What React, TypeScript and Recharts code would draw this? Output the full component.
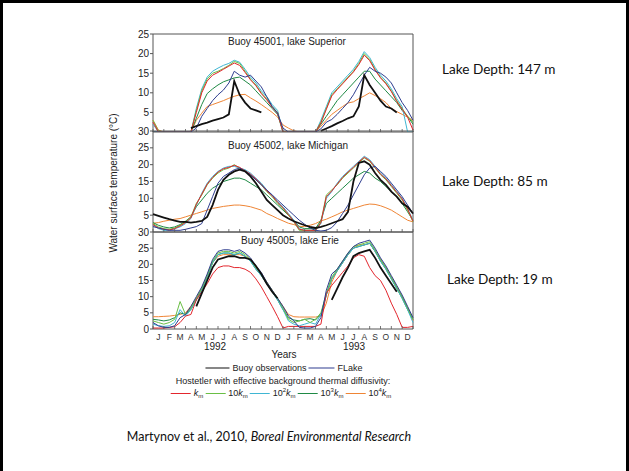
import React from 'react';
import { LineChart, Line, XAxis, YAxis, ReferenceArea } from 'recharts';

// ---------- categories / labels ----------
const monthLabels = ['J', 'F', 'M', 'A', 'M', 'J', 'J', 'A', 'S', 'O', 'N', 'D'];
const yearLabels = ['1992', '1993'];
const panelTitles = ['Buoy 45001, lake Superior', 'Buoy 45002, lake Michigan', 'Buoy 45005, lake Erie'];
const depthLabels = ['Lake Depth: 147 m', 'Lake Depth: 85 m', 'Lake Depth: 19 m'];
// time grid: months since 1 Jan 1992, half-month steps (0 .. 24)
const timeGrid = Array.from({ length: 49 }, (_, i) => i / 2);
const monthBoundaries = Array.from({ length: 25 }, (_, i) => i);
const monthCenters = Array.from({ length: 24 }, (_, i) => i + 0.5);

type S = (number | null)[];
const _ = null;

// ---------- Lake Superior ----------
const supObs: S = [_, _, _, _, _, _, _, 1.0, 1.5, 2.0, 2.4, 2.9, 3.3, 3.7, 4.5, 13.0, 9.5, 7.5, 6.0, 5.5, 5.0, _, _, _, _, _, _, _, _, _, _, 0.3, 0.9, 1.5, 2.2, 2.8, 3.5, 4.0, 6.5, 14.5, 12.0, 10.0, 8.0, 6.5, 6.0, 5.0, _, _, _];
const supFlake: S = [0, 0, 0, 0, 0, 0, 0, 0, 1.0, 4.0, 6.0, 8.0, 9.5, 10.7, 12.5, 15.5, 14.5, 14.0, 14.5, 13.0, 11.5, 9.0, 6.5, 4.8, 1.0, 0, 0, 0, 0, 0, 0, 0.8, 2.5, 3.2, 4.5, 6.0, 7.5, 9.5, 12.0, 14.5, 16.5, 15.5, 15.0, 14.0, 12.5, 10.0, 7.5, 5.5, 3.0];
const supK1: S = [2.5, 0, 0, 0, 0, 0, 0, 0, 5.0, 10.0, 13.0, 14.5, 15.2, 16.0, 16.8, 17.6, 17.0, 15.2, 13.3, 11.8, 9.8, 8.2, 6.3, 4.8, 0, 0, 0, 0, 0, 0, 0, 2.3, 5.8, 9.2, 10.8, 12.3, 13.8, 15.3, 17.2, 19.6, 18.2, 15.8, 13.8, 12.3, 10.3, 7.8, 5.8, 3.8, 0.5];
const supK10: S = [3.0, 0.3, 0, 0, 0, 0, 0, 0, 5.5, 10.5, 13.5, 15.0, 15.5, 16.2, 17.0, 18.0, 17.5, 15.5, 13.5, 12.0, 10.0, 8.5, 6.5, 5.0, 0, 0, 0, 0, 0, 0, 0, 2.5, 6.0, 9.5, 11.0, 12.5, 14.0, 15.5, 17.5, 20.0, 18.5, 16.0, 14.0, 12.5, 10.5, 8.0, 6.0, 4.0, 2.5];
const supK100: S = [2.0, 0, 0, 0, 0, 0, 0, 0, 6.0, 11.0, 14.0, 15.5, 16.3, 17.0, 17.5, 18.3, 17.8, 16.0, 14.0, 12.5, 10.5, 9.0, 7.0, 5.5, 0, 0, 0, 0, 0, 0, 0, 3.0, 6.5, 10.0, 11.5, 13.0, 14.5, 16.0, 18.0, 20.5, 19.0, 16.5, 14.5, 13.0, 11.0, 8.5, 6.5, 0, 0];
const supK1000: S = [0, 0, 0, 0, 0, 0, 0, 0, 3.5, 7.0, 9.8, 11.0, 12.0, 12.8, 13.3, 13.8, 14.0, 13.0, 12.0, 10.5, 9.0, 7.5, 6.0, 4.5, 0, 0, 0, 0, 0, 0, 0, 2.0, 4.0, 6.0, 8.0, 9.5, 11.0, 12.5, 14.0, 15.5, 15.5, 13.5, 12.0, 10.5, 9.0, 7.5, 5.5, 4.0, 2.0];
const supK10000: S = [3.0, 0.5, 0, 0, 0, 0, 0, 0, 3.0, 4.8, 6.5, 7.0, 7.5, 8.0, 8.6, 9.1, 9.5, 9.6, 8.7, 7.9, 7.0, 6.0, 5.0, 3.8, 1.8, 1.0, 0.3, 0, 0, 0, 0, 1.5, 3.0, 4.5, 5.5, 6.5, 7.4, 7.7, 8.5, 9.2, 10.0, 9.3, 8.5, 7.5, 6.0, 5.2, 4.5, 3.8, 3.0];

// ---------- Lake Michigan ----------
const micObs: S = [5.3, 4.8, 4.3, 3.8, 3.4, 3.0, 3.0, 2.8, 3.0, 3.3, 4.5, 8.0, 12.5, 15.5, 17.0, 18.0, 18.5, 18.0, 16.5, 14.5, 12.0, 9.5, 8.0, 6.5, 5.0, 4.0, 3.2, 2.6, 2.0, 1.5, 1.2, 1.5, 2.0, 2.6, 3.2, 3.8, 6.0, 15.0, 20.5, 21.0, 20.0, 17.5, 15.5, 14.0, 12.0, 10.5, 8.5, 7.5, 5.5];
const micFlake: S = [1.6, 1.2, 0.8, 0.5, 0.5, 0.5, 0.8, 1.2, 1.6, 2.5, 6.5, 10.5, 14.5, 16.5, 17.5, 18.5, 19.0, 18.0, 17.0, 15.5, 14.0, 12.5, 11.0, 9.5, 8.0, 6.5, 5.0, 3.5, 2.3, 1.2, 0.5, 0.3, 0.5, 1.3, 3.0, 5.5, 8.0, 11.0, 14.0, 17.0, 19.0, 19.5, 18.0, 16.5, 14.5, 12.5, 10.5, 8.0, 5.5];
const micK1: S = [2.2, 1.2, 0.8, 0.6, 1.0, 1.8, 2.8, 4.2, 8.2, 11.2, 14.2, 16.2, 17.8, 18.8, 19.2, 19.8, 19.2, 18.2, 17.2, 15.8, 14.2, 12.2, 10.8, 8.8, 7.2, 5.2, 3.2, 0.8, 0.5, 0.5, 0.5, 2.8, 10.5, 12.2, 14.2, 16.2, 17.8, 19.2, 20.8, 22.2, 21.2, 19.2, 17.2, 15.8, 13.8, 11.8, 9.8, 6.8, 3.2];
const micK10: S = [2.5, 1.5, 1.0, 0.8, 1.2, 2.0, 3.0, 4.5, 8.5, 11.0, 14.0, 16.0, 17.5, 18.5, 19.0, 20.0, 19.0, 18.0, 17.0, 15.5, 14.0, 12.0, 10.5, 8.5, 7.0, 5.0, 3.0, 0.5, 0.5, 0.5, 0.5, 3.0, 11.0, 12.5, 14.0, 16.0, 17.5, 19.0, 20.5, 22.0, 21.0, 19.0, 17.0, 15.5, 13.5, 11.5, 9.5, 6.5, 3.0];
const micK100: S = [2.0, 1.0, 0.5, 0.5, 1.0, 1.5, 2.5, 4.0, 8.0, 11.5, 14.5, 16.5, 18.0, 19.0, 19.5, 19.5, 19.0, 18.5, 17.5, 16.0, 14.5, 12.5, 11.0, 9.0, 7.5, 5.5, 3.5, 1.0, 0.5, 0.5, 0.5, 2.5, 10.0, 12.0, 14.5, 16.5, 18.0, 19.5, 21.0, 22.5, 21.5, 19.5, 17.5, 16.0, 14.0, 12.0, 10.0, 7.0, 3.5];
const micK1000: S = [2.8, 2.0, 1.5, 1.2, 1.5, 2.2, 3.2, 4.5, 7.5, 9.5, 11.5, 13.0, 14.0, 15.0, 15.5, 16.0, 16.0, 15.5, 14.5, 13.5, 12.5, 11.0, 9.5, 8.0, 6.5, 5.0, 3.5, 1.5, 1.0, 1.0, 1.0, 3.5, 8.5, 10.0, 11.5, 13.0, 14.5, 16.0, 17.0, 18.0, 17.5, 16.0, 15.0, 13.5, 12.0, 10.5, 8.5, 6.0, 3.5];
const micK10000: S = [2.6, 2.8, 3.2, 3.5, 3.8, 4.0, 4.5, 5.0, 5.5, 6.0, 6.5, 7.0, 7.3, 7.6, 7.8, 8.0, 8.0, 7.8, 7.5, 7.0, 6.5, 5.5, 4.8, 4.0, 3.3, 2.6, 2.2, 1.7, 1.6, 2.0, 2.5, 3.3, 3.8, 4.5, 5.2, 6.0, 6.5, 7.0, 7.5, 8.0, 8.3, 8.2, 7.8, 7.2, 6.5, 5.5, 4.5, 3.5, 3.0];

// ---------- Lake Erie ----------
const erieObs: S = [_, _, _, _, _, _, _, _, 7.0, 11.0, 15.0, 19.0, 21.5, 22.0, 22.5, 22.5, 22.0, 22.0, 21.5, 19.5, 17.0, 14.0, 11.5, 9.5, _, _, _, _, _, _, _, _, _, 9.0, 12.5, 16.0, 19.0, 22.5, 23.5, 24.0, 24.5, 22.0, 19.0, 16.5, 14.0, 11.5, _, _, _];
const erieFlake: S = [2.0, 1.0, 0.5, 0.5, 1.0, 3.5, 4.5, 7.0, 10.0, 13.0, 17.0, 21.5, 24.0, 24.5, 24.5, 24.0, 24.5, 23.5, 22.0, 19.5, 17.5, 14.5, 12.0, 9.5, 7.0, 4.0, 2.5, 0.5, 0.3, 0.3, 0.8, 3.5, 12.0, 17.0, 18.5, 21.0, 23.5, 25.5, 26.5, 27.0, 27.5, 25.0, 22.0, 19.5, 16.5, 13.5, 10.5, 7.0, 3.5];
const erieK1: S = [0.3, 0.3, 0.3, 0.5, 0.7, 2.0, 4.0, 4.5, 9.0, 11.5, 14.0, 17.0, 19.0, 19.5, 19.5, 19.0, 19.0, 18.5, 17.5, 15.5, 13.0, 10.0, 7.0, 3.8, 0.3, 0.8, 0.8, 0.8, 0.8, 0.8, 0.8, 1.5, 11.0, 13.5, 15.5, 17.5, 19.5, 22.0, 23.0, 22.5, 19.0, 16.5, 15.0, 12.0, 8.0, 4.5, 0.5, 0.5, 0.8];
const erieK10: S = [2.5, 2.0, 1.5, 2.0, 3.0, 8.5, 4.5, 6.5, 9.5, 12.5, 16.5, 21.0, 23.5, 24.0, 24.0, 23.5, 24.0, 23.0, 21.5, 19.0, 17.0, 14.5, 12.0, 9.5, 6.5, 3.0, 2.0, 2.5, 3.0, 2.0, 3.0, 5.0, 11.0, 16.0, 18.5, 21.0, 23.5, 25.5, 26.0, 26.5, 27.0, 24.5, 21.5, 19.0, 16.0, 13.0, 10.0, 6.5, 3.0];
const erieK100: S = [1.5, 1.0, 0.8, 1.0, 2.0, 6.0, 4.0, 6.0, 9.0, 12.0, 16.0, 20.5, 23.0, 23.5, 23.5, 23.0, 23.5, 22.5, 21.0, 18.5, 16.5, 14.0, 11.5, 9.0, 6.0, 2.5, 1.5, 1.0, 1.5, 2.0, 1.5, 4.5, 10.5, 15.5, 18.0, 20.5, 23.0, 25.0, 25.5, 26.0, 26.5, 24.0, 21.0, 18.5, 15.5, 12.5, 9.5, 6.0, 2.0];
const erieK1000: S = [3.0, 2.8, 2.5, 2.8, 3.5, 5.0, 4.5, 6.0, 9.0, 12.0, 16.0, 20.5, 23.0, 23.5, 23.5, 23.0, 23.5, 22.5, 21.0, 18.5, 16.5, 14.0, 11.5, 9.0, 6.0, 3.5, 2.8, 2.5, 3.0, 3.2, 2.8, 4.5, 10.5, 15.5, 18.0, 20.5, 23.0, 25.0, 25.5, 26.0, 26.5, 24.0, 21.0, 18.5, 15.5, 12.5, 9.5, 6.0, 3.0];
const erieK10000: S = [3.8, 3.8, 3.9, 4.0, 4.2, 4.5, 5.0, 7.0, 9.5, 12.5, 16.5, 20.5, 22.5, 23.0, 23.0, 23.0, 23.0, 22.5, 21.5, 19.0, 17.0, 14.5, 12.0, 9.5, 7.0, 4.5, 3.8, 3.7, 3.7, 3.7, 3.7, 4.0, 8.0, 14.5, 18.0, 20.5, 23.0, 25.0, 26.0, 26.0, 26.5, 24.0, 21.5, 19.0, 16.0, 13.0, 10.0, 6.5, 2.5];

// ---------- styling ----------
const W = 629;
const H = 471;
const PLOT_LEFT = 153;
const PLOT_RIGHT = 413;
const FRAME = '#555';
const CHART_FONT = '"Liberation Sans", Arial, sans-serif';
const SLIDE_FONT = 'Lato, "Liberation Sans", sans-serif';

const C_OBS = '#111111';
const C_FLAKE = '#2e3d8f';
const C_K1 = '#e3262d';
const C_K10 = '#6abf45';
const C_K100 = '#3fb6d3';
const C_K1000 = '#1f8a45';
const C_K10000 = '#ef8535';

const SERIES = [
  { key: 'k10000', color: C_K10000, width: 1 },
  { key: 'k1000', color: C_K1000, width: 1 },
  { key: 'k100', color: C_K100, width: 1 },
  { key: 'k10', color: C_K10, width: 1 },
  { key: 'k1', color: C_K1, width: 1 },
  { key: 'flake', color: C_FLAKE, width: 1 },
  { key: 'obs', color: C_OBS, width: 1.8 },
];

function buildRows(s: Record<string, S>) {
  return timeGrid.map((t, i) => {
    const row: Record<string, number | null> = { t };
    Object.keys(s).forEach((k) => {
      row[k] = s[k][i];
    });
    return row;
  });
}

const supRows = buildRows({ obs: supObs, flake: supFlake, k1: supK1, k10: supK10, k100: supK100, k1000: supK1000, k10000: supK10000 });
const micRows = buildRows({ obs: micObs, flake: micFlake, k1: micK1, k10: micK10, k100: micK100, k1000: micK1000, k10000: micK10000 });
const erieRows = buildRows({ obs: erieObs, flake: erieFlake, k1: erieK1, k10: erieK10, k100: erieK100, k1000: erieK1000, k10000: erieK10000 });

function BoundaryTick(props: any) {
  const { x, y } = props;
  return <line x1={x} x2={x} y1={y} y2={y - 3} stroke={FRAME} strokeWidth={0.8} />;
}

function Panel(props: {
  rows: any[];
  plotTop: number;
  plotBottom: number;
  yMax: number;
  yTicks: number[];
  showMonths: boolean;
}) {
  const { rows, plotTop, plotBottom, yMax, yTicks, showMonths } = props;
  const labelH = showMonths ? 14 : 0;
  return (
    <div style={{ position: 'absolute', left: 0, top: 0 }}>
      <LineChart
        width={W}
        height={H}
        data={rows}
        margin={{ top: plotTop, left: PLOT_LEFT - 30, right: W - PLOT_RIGHT, bottom: H - plotBottom - 1 - labelH }}
      >
        <XAxis
          xAxisId="b"
          type="number"
          dataKey="t"
          domain={[0, 24]}
          ticks={monthBoundaries}
          interval={0}
          tickSize={0}
          tickMargin={0}
          axisLine={false}
          tickLine={false}
          height={1}
          tick={<BoundaryTick />}
        />
        {showMonths && (
          <XAxis
            xAxisId="l"
            type="number"
            dataKey="t"
            domain={[0, 24]}
            ticks={monthCenters}
            interval={0}
            tickSize={0}
            tickMargin={4}
            axisLine={false}
            tickLine={false}
            height={labelH}
            tickFormatter={(v: number) => monthLabels[Math.floor(v) % 12]}
            tick={{ fontSize: 8.5, fill: '#333' }}
          />
        )}
        <YAxis
          yAxisId="left"
          type="number"
          domain={[0, yMax]}
          ticks={yTicks}
          interval={0}
          width={30}
          tickSize={3}
          tickMargin={1}
          axisLine={false}
          tickLine={{ stroke: FRAME }}
          tick={{ fontSize: 10, fill: '#222' }}
          allowDataOverflow
        />
        <YAxis
          yAxisId="right"
          orientation="right"
          mirror
          type="number"
          domain={[0, yMax]}
          ticks={yTicks}
          interval={0}
          width={0}
          tickSize={3}
          axisLine={false}
          tickLine={{ stroke: FRAME }}
          tick={() => null}
          allowDataOverflow
        />
        <ReferenceArea
          xAxisId="b"
          yAxisId="left"
          x1={0}
          x2={24}
          y1={0}
          y2={yMax}
          fill="none"
          fillOpacity={0}
          stroke={FRAME}
          strokeWidth={1}
          ifOverflow="visible"
        />
        {SERIES.map((s) => (
          <Line
            key={s.key}
            xAxisId="b"
            yAxisId="left"
            type="linear"
            dataKey={s.key}
            stroke={s.color}
            strokeWidth={s.width}
            dot={false}
            activeDot={false}
            isAnimationActive={false}
          />
        ))}
      </LineChart>
    </div>
  );
}

function Txt(props: { x: number; y: number; size: number; align?: 'center' | 'left'; font?: string; children: React.ReactNode; color?: string }) {
  const { x, y, size, align = 'center', font = CHART_FONT, children, color = '#222' } = props;
  return (
    <div
      style={{
        position: 'absolute',
        left: x,
        top: y,
        transform: align === 'center' ? 'translate(-50%, -50%)' : 'translate(0, -50%)',
        fontFamily: font,
        fontSize: size,
        color,
        whiteSpace: 'nowrap',
        lineHeight: 1,
      }}
    >
      {children}
    </div>
  );
}

function Swatch({ c, w = 20 }: { c: string; w?: number }) {
  return <span style={{ display: 'inline-block', width: w, height: 1.2, background: c, margin: '0 3px 0 2px', verticalAlign: 'middle' }} />;
}

const km = (prefix: string, pow?: string) => (
  <span>
    {prefix}
    {pow ? <sup style={{ fontSize: 6, verticalAlign: '4px' }}>{pow}</sup> : null}
    <i>k</i>
    <sub style={{ fontSize: 6, verticalAlign: '-2px' }}>m</sub>
  </span>
);

export default function App() {
  return (
    <div style={{ position: 'absolute', left: 0, top: 0, width: W, height: H, background: '#fff', overflow: 'hidden', fontFamily: CHART_FONT }}>
      {/* slide frame */}
      <div style={{ position: 'absolute', left: 0, top: 0, width: W, height: 3, background: '#000' }} />
      <div style={{ position: 'absolute', left: 0, top: 0, width: 3, height: H, background: '#000' }} />
      <div style={{ position: 'absolute', left: W - 3, top: 0, width: 3, height: H, background: '#000' }} />

      <Panel rows={supRows} plotTop={34} plotBottom={132} yMax={25} yTicks={[5, 10, 15, 20, 25]} showMonths={false} />
      <Panel rows={micRows} plotTop={131} plotBottom={232} yMax={30} yTicks={[5, 10, 15, 20, 25, 30]} showMonths={false} />
      <Panel rows={erieRows} plotTop={232} plotBottom={329} yMax={30} yTicks={[0, 5, 10, 15, 20, 25, 30]} showMonths={true} />

      <Txt x={287} y={42} size={10}>{panelTitles[0]}</Txt>
      <Txt x={288} y={146} size={10}>{panelTitles[1]}</Txt>
      <Txt x={290} y={241} size={10}>{panelTitles[2]}</Txt>

      <div
        style={{
          position: 'absolute',
          left: 114,
          top: 183,
          transform: 'translate(-50%, -50%) rotate(-90deg)',
          fontSize: 10,
          color: '#222',
          whiteSpace: 'nowrap',
          lineHeight: 1,
        }}
      >
        Water surface temperature (°C)
      </div>

      <Txt x={215} y={347} size={10}>{yearLabels[0]}</Txt>
      <Txt x={354} y={347} size={10}>{yearLabels[1]}</Txt>
      <Txt x={284} y={355} size={10}>Years</Txt>

      <Txt x={283} y={368} size={9}>
        <Swatch c={C_OBS} w={24} />Buoy observations<Swatch c={C_FLAKE} w={26} />FLake
      </Txt>
      <Txt x={283} y={381} size={9}>Hostetler with effective background thermal diffusivity:</Txt>
      <Txt x={280} y={393} size={9}>
        <Swatch c={C_K1} />{km('')}
        <Swatch c={C_K10} />{km('10')}
        <Swatch c={C_K100} />{km('10', '2')}
        <Swatch c={C_K1000} />{km('10', '3')}
        <Swatch c={C_K10000} />{km('10', '4')}
      </Txt>

      <Txt x={442} y={70} size={13.6} align="left" font={SLIDE_FONT} color="#111">{depthLabels[0]}</Txt>
      <Txt x={442} y={182} size={13.6} align="left" font={SLIDE_FONT} color="#111">{depthLabels[1]}</Txt>
      <Txt x={447} y={280} size={13.6} align="left" font={SLIDE_FONT} color="#111">{depthLabels[2]}</Txt>

      <Txt x={269} y={437} size={12.5} font={SLIDE_FONT} color="#111">
        Martynov et al., 2010, <i>Boreal Environmental Research</i>
      </Txt>
    </div>
  );
}
